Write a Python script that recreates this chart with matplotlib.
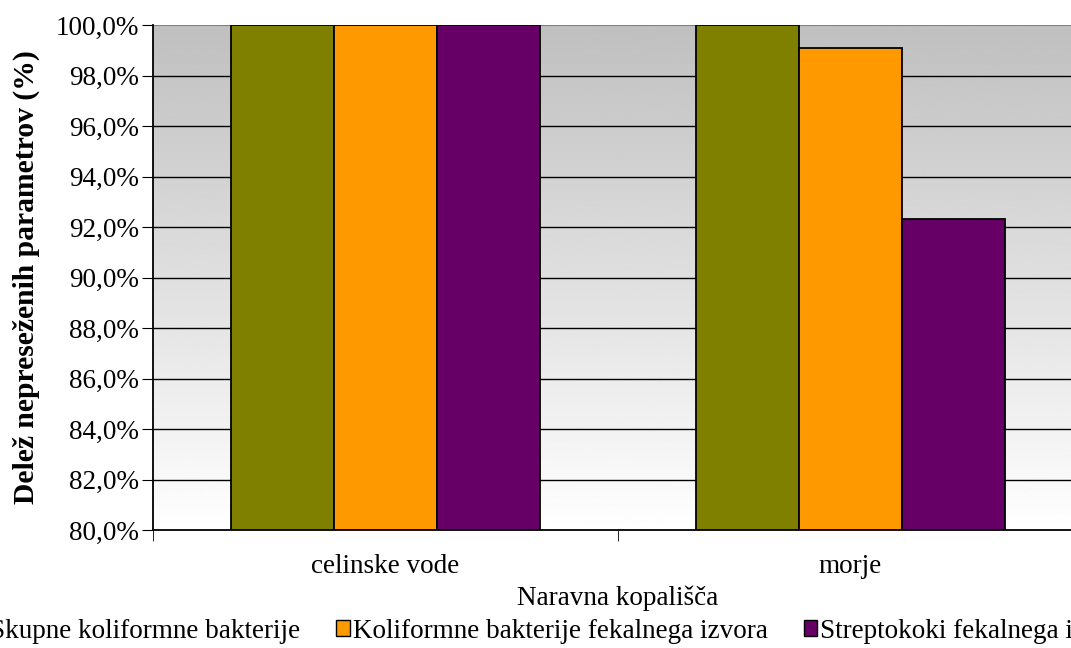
import matplotlib
matplotlib.use("Agg")
import matplotlib.pyplot as plt
import numpy as np
from matplotlib.patches import Patch

categories = ["celinske vode", "morje"]
series_names = ["Skupne koliformne bakterije", "Koliformne bakterije fekalnega izvora",
                "Streptokoki fekalnega izvora"]
values = [
    [100.0, 100.0],
    [100.0, 99.1],
    [100.0, 92.3],
]
colors = ["#808000", "#FF9900", "#660066"]
yticks = [80, 82, 84, 86, 88, 90, 92, 94, 96, 98, 100]

plt.rcParams['font.family'] = ['Liberation Serif', 'DejaVu Serif']
FS = 19.5

fig = plt.figure(figsize=(10.71, 6.48), dpi=100)
ax = fig.add_axes([153/1071, 1-530/648, 930/1071, 505/648])

# gradient background
grad = np.linspace(1.0, 0.75, 256).reshape(-1, 1)
ax.imshow(grad, cmap='gray', vmin=0, vmax=1, aspect='auto',
          extent=(-0.5, 1.5, 80, 100), origin='lower', zorder=0)

ax.set_xlim(-0.5, 1.5)
ax.set_ylim(80, 100)

for yv in yticks[1:-1]:
    ax.axhline(yv, color='black', lw=1, zorder=1)
ax.axhline(100, color='#808080', lw=1.5, zorder=1)

w = 0.222
x = np.arange(len(categories))
for i, (vals, c) in enumerate(zip(values, colors)):
    ax.bar(x + (i - 1) * w, [v - 80 for v in vals], bottom=80, width=w,
           color=c, edgecolor='black', linewidth=1.3, zorder=3)

ax.set_yticks(yticks)
ax.set_yticklabels([f"{v:.1f}".replace('.', ',') + "%" for v in yticks], fontsize=FS)
ax.set_xticks(x)
ax.set_xticklabels(categories, fontsize=FS)
ax.tick_params(axis='x', which='major', length=0, pad=17)
ax.set_xticks([-0.5, 0.5, 1.5], minor=True)
ax.tick_params(axis='x', which='minor', length=8, direction='out', color='black')
ax.tick_params(axis='y', length=8, direction='out', color='black', pad=2)

for s in ['top', 'right']:
    ax.spines[s].set_visible(False)
ax.spines['left'].set_color('black')
ax.spines['bottom'].set_color('black')
ax.spines['left'].set_linewidth(1.3)
ax.spines['bottom'].set_linewidth(1.3)

ax.set_xlabel("Naravna kopališča", fontsize=FS, labelpad=5)
ax.set_ylabel("Delež nepreseženih parametrov (%)", fontsize=21.3, fontweight='bold', labelpad=11)

handles = [Patch(facecolor=c, edgecolor='black', linewidth=1.0) for c in colors]
fig.legend(handles, series_names, loc='center left', bbox_to_anchor=(-26/1071, 1-631/648),
           ncol=3, frameon=False, fontsize=FS, borderpad=0, borderaxespad=0,
           handlelength=0.5, handleheight=0.5, handletextpad=0.1, columnspacing=1.33)

fig.savefig("out.png", dpi=100)
